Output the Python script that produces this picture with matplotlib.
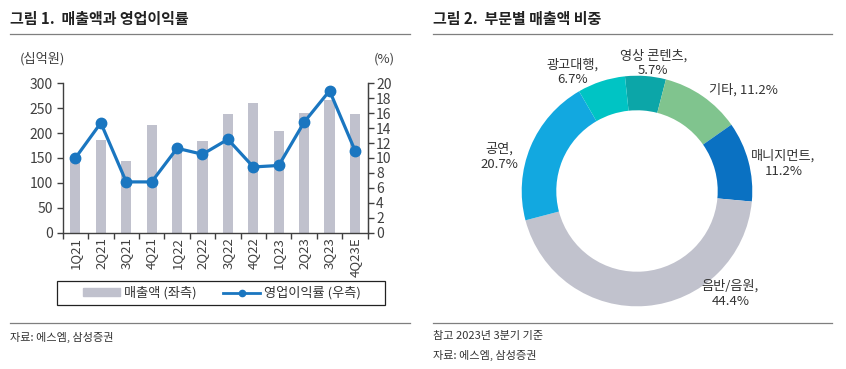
import matplotlib
matplotlib.use("Agg")
import matplotlib.pyplot as plt
import numpy as np
from matplotlib.patches import Rectangle
from matplotlib.lines import Line2D

plt.rcParams['font.family'] = ['Noto Sans CJK KR', 'DejaVu Sans']

# chart 1 data
quarters = ['1Q21', '2Q21', '3Q21', '4Q21', '1Q22', '2Q22', '3Q22', '4Q22',
            '1Q23', '2Q23', '3Q23', '4Q23E']
sales = [148, 187, 144, 217, 168, 185, 238, 260, 204, 240, 266, 238]
op_margin = [10.0, 14.7, 6.8, 6.8, 11.3, 10.5, 12.5, 8.8, 9.0, 14.8, 19.0, 11.0]

# chart 2 data
segments = ['영상 콘텐츠', '기타', '매니지먼트', '음반/음원', '공연', '광고대행']
shares = [5.7, 11.2, 11.2, 44.4, 20.7, 6.7]
seg_colors = ['#0ca6a8', '#80c48e', '#0a71c2', '#c1c2cd', '#12a8e0', '#00c4c4']
label_text = ['영상 콘텐츠,\n5.7%', '기타, 11.2%', '매니지먼트,\n11.2%',
              '음반/음원,\n44.4%', '공연,\n20.7%', '광고대행,\n6.7%']
label_pos = [(0.14, 1.11), (0.92, 0.88), (1.27, 0.24), (0.81, -0.89),
             (-1.19, 0.30), (-0.56, 1.03)]

W, H = 846, 369
fig = plt.figure(figsize=(W / 100, H / 100), dpi=100)

def fx(px):
    return px / W

def fy(py):
    return 1 - py / H

txt = '#333333'
axc = '#404040'
bar_c = '#c0c1cd'
line_c = '#1a76c0'

# ---- headers and rules
fig.text(fx(10), fy(19), '그림 1.  매출액과 영업이익률', fontsize=10.8,
         fontweight='bold', color='#222222', va='center', ha='left')
fig.text(fx(433), fy(19), '그림 2.  부문별 매출액 비중', fontsize=10.8,
         fontweight='bold', color='#222222', va='center', ha='left')
for x0, x1 in [(10, 410), (433, 832)]:
    for yy in (34, 323):
        fig.add_artist(Line2D([fx(x0), fx(x1)], [fy(yy), fy(yy)],
                              color='#7f7f7f', lw=0.9))
fig.text(fx(10), fy(337), '자료: 에스엠, 삼성증권', fontsize=8, color=txt,
         va='center', ha='left')
fig.text(fx(433), fy(336), '참고 2023년 3분기 기준', fontsize=8, color=txt,
         va='center', ha='left')
fig.text(fx(433), fy(355), '자료: 에스엠, 삼성증권', fontsize=8, color=txt,
         va='center', ha='left')

# ---- chart 1: bars + line
ax = fig.add_axes([fx(62.7), fy(232.7), fx(367.7) - fx(62.7), fy(83.3) - fy(232.7)])
x = np.arange(len(quarters))
ax.bar(x, sales, width=0.4, color=bar_c, zorder=1)
ax.set_ylim(0, 300)
ax.set_yticks(np.arange(0, 301, 50))
ax.set_xlim(-0.5, len(quarters) - 0.5)
ax.set_xticks(np.arange(-0.5, len(quarters), 1))
ax.set_xticklabels([])
ax.set_xticks(x, minor=True)
ax.set_xticklabels(quarters, minor=True, rotation=90, fontsize=9.5, color=axc)
ax.tick_params(axis='x', which='major', length=4, width=1, color=axc, direction='out')
ax.tick_params(axis='x', which='minor', length=0, pad=3)
ax.tick_params(axis='y', length=4, width=1, color=axc, labelsize=10,
               labelcolor=axc, pad=3)
ax.spines['top'].set_visible(False)
for s in ['left', 'bottom', 'right']:
    ax.spines[s].set_color(axc)
    ax.spines[s].set_linewidth(1)

ax2 = ax.twinx()
ax2.plot(x, op_margin, color=line_c, lw=2.3, marker='o', markersize=7.5, zorder=3)
ax2.set_ylim(0, 20)
ax2.set_yticks(np.arange(0, 21, 2))
ax2.tick_params(axis='y', length=4, width=1, color=axc, labelsize=10,
                labelcolor=axc, pad=2)
ax2.spines['top'].set_visible(False)
ax2.spines['right'].set_color(axc)
ax2.spines['left'].set_visible(False)
ax2.spines['bottom'].set_visible(False)

fig.text(fx(20), fy(59), '(십억원)', fontsize=9.5, color=axc, va='center', ha='left')
fig.text(fx(374), fy(59), '(%)', fontsize=9.5, color=axc, va='center', ha='left')

# legend with separate box
fig.add_artist(Rectangle((fx(57), fy(305)), fx(385) - fx(57), fy(281) - fy(305),
                         fill=False, edgecolor='#222222', lw=0.9,
                         transform=fig.transFigure))
handles = [Rectangle((0, 0), 1, 1, color=bar_c),
           Line2D([], [], color=line_c, lw=2.0, marker='o', markersize=4.5)]
fig.legend(handles, ['매출액 (좌측)', '영업이익률 (우측)'], ncol=2,
           loc='center', bbox_to_anchor=(fx(222), fy(293)), frameon=False,
           fontsize=9.5, handlelength=2.8, handleheight=0.5, handletextpad=0.3,
           columnspacing=2.0, labelcolor=txt)

# ---- chart 2: donut
R = 115.3
axp = fig.add_axes([fx(637 - 140), fy(191 + 140), 280 / W, 280 / H])
axp.pie(shares, colors=seg_colors, startangle=96, counterclock=False, radius=1,
        wedgeprops=dict(width=0.30, edgecolor='none'))
lim = 140 / R
axp.set_xlim(-lim, lim)
axp.set_ylim(-lim, lim)
axp.set_aspect('equal')
axp.axis('off')
for t, (lx, ly) in zip(label_text, label_pos):
    axp.text(lx, ly, t, ha='center', va='center', fontsize=9.5, color=txt,
             linespacing=1.2)

fig.savefig('out.png', dpi=100)
